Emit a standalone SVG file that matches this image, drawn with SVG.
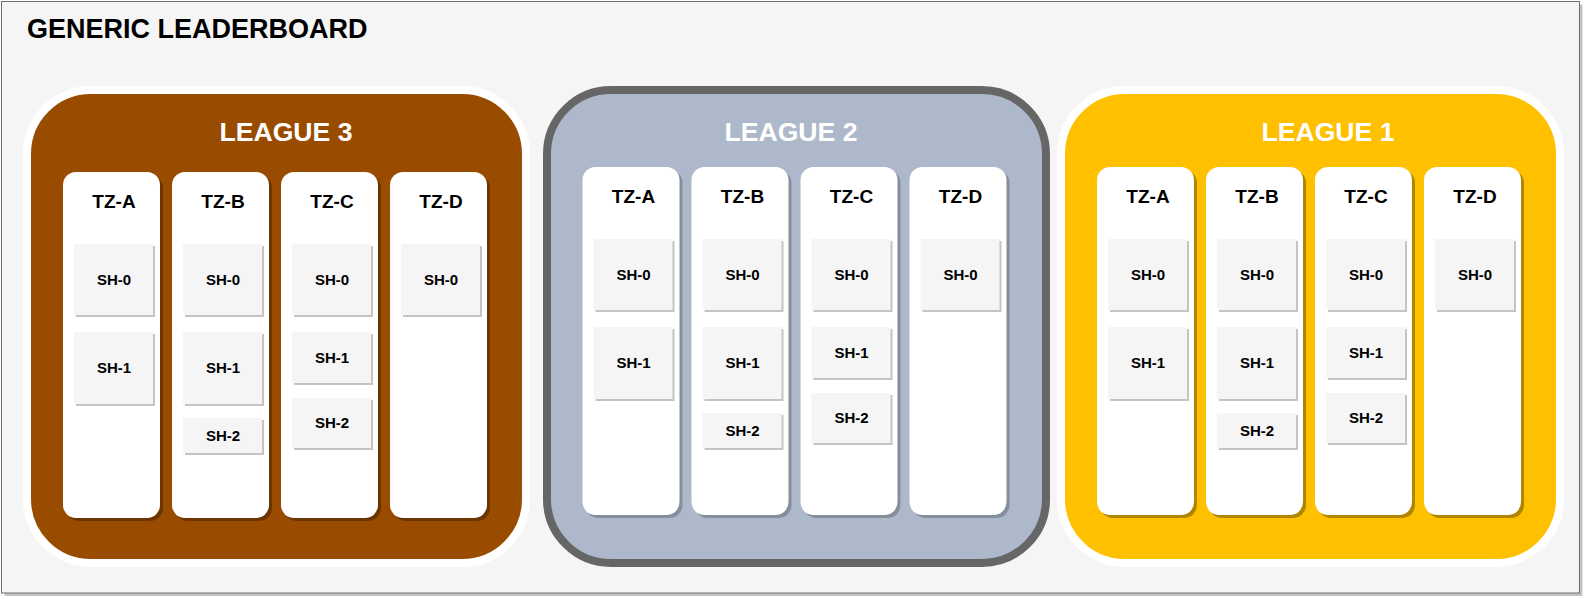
<svg xmlns="http://www.w3.org/2000/svg" width="1584" height="599" viewBox="0 0 1584 599">
<style>
text{font-family:"Liberation Sans",Arial,sans-serif;font-weight:bold;text-anchor:middle}
.title{font-size:27px;fill:#000;text-anchor:start}
.lt{font-size:26.6px;fill:#fff}
.tz{font-size:19px;fill:#000}
.sh{font-size:15px;fill:#000}
.col{fill:#fff}
.box{fill:#f5f5f5}
.boxs{fill:#c4c4c4}
.s3{fill:#6b3500}
.s2{fill:#858f9c}
.s1{fill:#b08600}
</style>
<rect x="4.5" y="4.5" width="1578" height="591.5" fill="#c4c4c4"/>
<rect x="1.5" y="1.5" width="1578" height="591.5" fill="#f5f5f5" stroke="#6e6e6e" stroke-width="1"/>
<text class="title" x="27" y="38">GENERIC LEADERBOARD</text>

<g id="league3">
<rect x="27" y="90" width="499" height="473" rx="64" fill="#994c00" stroke="#ffffff" stroke-width="8"/>
<text class="lt" x="286" y="141">LEAGUE 3</text>
<g id="l3-tza">
<rect class="s3" x="66" y="175" width="97" height="346" rx="13"/>
<rect class="col" x="63" y="172" width="97" height="346" rx="13"/>
<text class="tz" x="114" y="208">TZ-A</text>
<g id="l3-tza-sh0"><rect class="boxs" x="76" y="246" width="79" height="71"/><rect class="box" x="74" y="244" width="79" height="71"/><text class="sh" x="114" y="284.5">SH-0</text></g>
<g id="l3-tza-sh1"><rect class="boxs" x="76" y="334" width="79" height="72"/><rect class="box" x="74" y="332" width="79" height="72"/><text class="sh" x="114" y="373">SH-1</text></g>
</g>
<g id="l3-tzb">
<rect class="s3" x="175" y="175" width="97" height="346" rx="13"/>
<rect class="col" x="172" y="172" width="97" height="346" rx="13"/>
<text class="tz" x="223" y="208">TZ-B</text>
<g id="l3-tzb-sh0"><rect class="boxs" x="185" y="246" width="79" height="71"/><rect class="box" x="183" y="244" width="79" height="71"/><text class="sh" x="223" y="284.5">SH-0</text></g>
<g id="l3-tzb-sh1"><rect class="boxs" x="185" y="334" width="79" height="72"/><rect class="box" x="183" y="332" width="79" height="72"/><text class="sh" x="223" y="373">SH-1</text></g>
<g id="l3-tzb-sh2"><rect class="boxs" x="185" y="420" width="79" height="35"/><rect class="box" x="183" y="418" width="79" height="35"/><text class="sh" x="223" y="440.5">SH-2</text></g>
</g>
<g id="l3-tzc">
<rect class="s3" x="284" y="175" width="97" height="346" rx="13"/>
<rect class="col" x="281" y="172" width="97" height="346" rx="13"/>
<text class="tz" x="332" y="208">TZ-C</text>
<g id="l3-tzc-sh0"><rect class="boxs" x="294" y="246" width="79" height="71"/><rect class="box" x="292" y="244" width="79" height="71"/><text class="sh" x="332" y="284.5">SH-0</text></g>
<g id="l3-tzc-sh1"><rect class="boxs" x="294" y="334" width="79" height="51"/><rect class="box" x="292" y="332" width="79" height="51"/><text class="sh" x="332" y="362.5">SH-1</text></g>
<g id="l3-tzc-sh2"><rect class="boxs" x="294" y="400" width="79" height="50"/><rect class="box" x="292" y="398" width="79" height="50"/><text class="sh" x="332" y="428">SH-2</text></g>
</g>
<g id="l3-tzd">
<rect class="s3" x="393" y="175" width="97" height="346" rx="13"/>
<rect class="col" x="390" y="172" width="97" height="346" rx="13"/>
<text class="tz" x="441" y="208">TZ-D</text>
<g id="l3-tzd-sh0"><rect class="boxs" x="403" y="246" width="79" height="71"/><rect class="box" x="401" y="244" width="79" height="71"/><text class="sh" x="441" y="284.5">SH-0</text></g>
</g>
</g>

<g id="league2">
<rect x="547" y="90" width="499" height="473" rx="64" fill="#adb9ca" stroke="#666666" stroke-width="8"/>
<text class="lt" x="791" y="141">LEAGUE 2</text>
<g id="l2-tza">
<rect class="s2" x="585.5" y="170" width="97" height="348" rx="13"/>
<rect class="col" x="582.5" y="167" width="97" height="348" rx="13"/>
<text class="tz" x="633.5" y="203">TZ-A</text>
<g id="l2-tza-sh0"><rect class="boxs" x="595.5" y="241" width="79" height="71"/><rect class="box" x="593.5" y="239" width="79" height="71"/><text class="sh" x="633.5" y="279.5">SH-0</text></g>
<g id="l2-tza-sh1"><rect class="boxs" x="595.5" y="329" width="79" height="72"/><rect class="box" x="593.5" y="327" width="79" height="72"/><text class="sh" x="633.5" y="368">SH-1</text></g>
</g>
<g id="l2-tzb">
<rect class="s2" x="694.5" y="170" width="97" height="348" rx="13"/>
<rect class="col" x="691.5" y="167" width="97" height="348" rx="13"/>
<text class="tz" x="742.5" y="203">TZ-B</text>
<g id="l2-tzb-sh0"><rect class="boxs" x="704.5" y="241" width="79" height="71"/><rect class="box" x="702.5" y="239" width="79" height="71"/><text class="sh" x="742.5" y="279.5">SH-0</text></g>
<g id="l2-tzb-sh1"><rect class="boxs" x="704.5" y="329" width="79" height="72"/><rect class="box" x="702.5" y="327" width="79" height="72"/><text class="sh" x="742.5" y="368">SH-1</text></g>
<g id="l2-tzb-sh2"><rect class="boxs" x="704.5" y="415" width="79" height="35"/><rect class="box" x="702.5" y="413" width="79" height="35"/><text class="sh" x="742.5" y="435.5">SH-2</text></g>
</g>
<g id="l2-tzc">
<rect class="s2" x="803.5" y="170" width="97" height="348" rx="13"/>
<rect class="col" x="800.5" y="167" width="97" height="348" rx="13"/>
<text class="tz" x="851.5" y="203">TZ-C</text>
<g id="l2-tzc-sh0"><rect class="boxs" x="813.5" y="241" width="79" height="71"/><rect class="box" x="811.5" y="239" width="79" height="71"/><text class="sh" x="851.5" y="279.5">SH-0</text></g>
<g id="l2-tzc-sh1"><rect class="boxs" x="813.5" y="329" width="79" height="51"/><rect class="box" x="811.5" y="327" width="79" height="51"/><text class="sh" x="851.5" y="357.5">SH-1</text></g>
<g id="l2-tzc-sh2"><rect class="boxs" x="813.5" y="395" width="79" height="50"/><rect class="box" x="811.5" y="393" width="79" height="50"/><text class="sh" x="851.5" y="423">SH-2</text></g>
</g>
<g id="l2-tzd">
<rect class="s2" x="912.5" y="170" width="97" height="348" rx="13"/>
<rect class="col" x="909.5" y="167" width="97" height="348" rx="13"/>
<text class="tz" x="960.5" y="203">TZ-D</text>
<g id="l2-tzd-sh0"><rect class="boxs" x="922.5" y="241" width="79" height="71"/><rect class="box" x="920.5" y="239" width="79" height="71"/><text class="sh" x="960.5" y="279.5">SH-0</text></g>
</g>
</g>

<g id="league1">
<rect x="1061" y="90" width="499" height="473" rx="64" fill="#ffc000" stroke="#ffffff" stroke-width="8"/>
<text class="lt" x="1328" y="141">LEAGUE 1</text>
<g id="l1-tza">
<rect class="s1" x="1100" y="170" width="97" height="348" rx="13"/>
<rect class="col" x="1097" y="167" width="97" height="348" rx="13"/>
<text class="tz" x="1148" y="203">TZ-A</text>
<g id="l1-tza-sh0"><rect class="boxs" x="1110" y="241" width="79" height="71"/><rect class="box" x="1108" y="239" width="79" height="71"/><text class="sh" x="1148" y="279.5">SH-0</text></g>
<g id="l1-tza-sh1"><rect class="boxs" x="1110" y="329" width="79" height="72"/><rect class="box" x="1108" y="327" width="79" height="72"/><text class="sh" x="1148" y="368">SH-1</text></g>
</g>
<g id="l1-tzb">
<rect class="s1" x="1209" y="170" width="97" height="348" rx="13"/>
<rect class="col" x="1206" y="167" width="97" height="348" rx="13"/>
<text class="tz" x="1257" y="203">TZ-B</text>
<g id="l1-tzb-sh0"><rect class="boxs" x="1219" y="241" width="79" height="71"/><rect class="box" x="1217" y="239" width="79" height="71"/><text class="sh" x="1257" y="279.5">SH-0</text></g>
<g id="l1-tzb-sh1"><rect class="boxs" x="1219" y="329" width="79" height="72"/><rect class="box" x="1217" y="327" width="79" height="72"/><text class="sh" x="1257" y="368">SH-1</text></g>
<g id="l1-tzb-sh2"><rect class="boxs" x="1219" y="415" width="79" height="35"/><rect class="box" x="1217" y="413" width="79" height="35"/><text class="sh" x="1257" y="435.5">SH-2</text></g>
</g>
<g id="l1-tzc">
<rect class="s1" x="1318" y="170" width="97" height="348" rx="13"/>
<rect class="col" x="1315" y="167" width="97" height="348" rx="13"/>
<text class="tz" x="1366" y="203">TZ-C</text>
<g id="l1-tzc-sh0"><rect class="boxs" x="1328" y="241" width="79" height="71"/><rect class="box" x="1326" y="239" width="79" height="71"/><text class="sh" x="1366" y="279.5">SH-0</text></g>
<g id="l1-tzc-sh1"><rect class="boxs" x="1328" y="329" width="79" height="51"/><rect class="box" x="1326" y="327" width="79" height="51"/><text class="sh" x="1366" y="357.5">SH-1</text></g>
<g id="l1-tzc-sh2"><rect class="boxs" x="1328" y="395" width="79" height="50"/><rect class="box" x="1326" y="393" width="79" height="50"/><text class="sh" x="1366" y="423">SH-2</text></g>
</g>
<g id="l1-tzd">
<rect class="s1" x="1427" y="170" width="97" height="348" rx="13"/>
<rect class="col" x="1424" y="167" width="97" height="348" rx="13"/>
<text class="tz" x="1475" y="203">TZ-D</text>
<g id="l1-tzd-sh0"><rect class="boxs" x="1437" y="241" width="79" height="71"/><rect class="box" x="1435" y="239" width="79" height="71"/><text class="sh" x="1475" y="279.5">SH-0</text></g>
</g>
</g>

<g id="connectors"/>
</svg>
